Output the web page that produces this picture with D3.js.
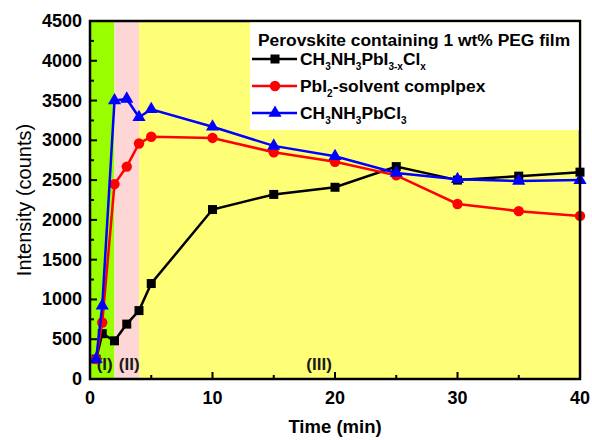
<!DOCTYPE html>
<html><head><meta charset="utf-8">
<script src="https://cdn.jsdelivr.net/npm/d3@7"></script>
<style>body{margin:0;background:#fff;} text{font-family:"Liberation Sans",Arial,sans-serif;}</style>
</head><body>
<svg id="c" width="592" height="440"></svg>
<script>
const times = [0.5, 1, 2, 3, 4, 5, 10, 15, 20, 25, 30, 35, 40];
const mixedHalide = [250, 570, 480, 690, 860, 1200, 2130, 2320, 2410, 2670, 2500, 2550, 2600];
const pbi2Complex = [250, 710, 2450, 2670, 2960, 3045, 3030, 2850, 2730, 2560, 2200, 2110, 2050];
const chloride = [250, 920, 3500, 3520, 3290, 3390, 3170, 2930, 2800, 2590, 2510, 2490, 2500];
const regions = [{x0:0,x1:2,label:"(I)",color:"#99ff00"},{x0:2,x1:4,label:"(II)",color:"#ffd6d6"},{x0:4,x1:40,label:"(III)",color:"#ffff77"}];
const regionLabelX = [1.2, 3.2, 18.7];
const xTicks = [0,10,20,30,40];
const xMinor = [5,15,25,35];
const yTicks = d3.range(0,4501,500);
const yMinor = d3.range(250,4500,500);

const svg = d3.select("#c");
const L=90,R=580,T=21,B=379;
const x = d3.scaleLinear().domain([0,40]).range([L,R]);
const y = d3.scaleLinear().domain([0,4500]).range([B,T]);

// backgrounds
svg.selectAll("rect.reg").data(regions).enter().append("rect")
  .attr("x",d=>x(d.x0)).attr("width",d=>x(d.x1)-x(d.x0))
  .attr("y",T).attr("height",B-T).attr("fill",d=>d.color);
regions.forEach((d,i)=>{
  svg.append("text").attr("x",x(regionLabelX[i])).attr("y",370).attr("text-anchor","middle")
    .attr("font-size",17).attr("font-weight","bold").attr("fill","#1a1a1a").text(d.label);
});

// ticks
const g = svg.append("g");
xTicks.forEach(t=>{
  g.append("line").attr("x1",x(t)).attr("x2",x(t)).attr("y1",B).attr("y2",B-7).attr("stroke","#000").attr("stroke-width",2);
  g.append("text").attr("x",x(t)).attr("y",404).attr("text-anchor","middle").attr("font-size",18).attr("font-weight","bold").text(t);
});
xMinor.forEach(t=>{
  g.append("line").attr("x1",x(t)).attr("x2",x(t)).attr("y1",B).attr("y2",B-4).attr("stroke","#000").attr("stroke-width",2);
});
yTicks.forEach(v=>{
  g.append("line").attr("x1",L).attr("x2",L+7).attr("y1",y(v)).attr("y2",y(v)).attr("stroke","#000").attr("stroke-width",2);
  g.append("text").attr("x",82).attr("y",y(v)+6).attr("text-anchor","end").attr("font-size",18).attr("font-weight","bold").text(v);
});
yMinor.forEach(v=>{
  g.append("line").attr("x1",L).attr("x2",L+4).attr("y1",y(v)).attr("y2",y(v)).attr("stroke","#000").attr("stroke-width",2);
});

// series
const series = [
  {vals:mixedHalide,color:"#000000",marker:"square"},
  {vals:pbi2Complex,color:"#ff0000",marker:"circle"},
  {vals:chloride,color:"#0000ff",marker:"triangle"}
];
const line = d3.line().x(d=>x(d[0])).y(d=>y(d[1]));
function marker(sel,type,color){
  if(type==="square") sel.append("rect").attr("x",-4.5).attr("y",-4.5).attr("width",9).attr("height",9).attr("fill",color);
  else if(type==="circle") sel.append("circle").attr("r",5.2).attr("fill",color);
  else sel.append("path").attr("d",d3.symbol().type(d3.symbolTriangle).size(75)()).attr("fill",color);
}
series.forEach(s=>{
  const pts = times.map((t,i)=>[t,s.vals[i]]);
  svg.append("path").attr("d",line(pts)).attr("fill","none").attr("stroke",s.color).attr("stroke-width",2.5);
  pts.forEach(p=>{
    const m = svg.append("g").attr("transform",`translate(${x(p[0])},${y(p[1])})`);
    marker(m,s.marker,s.color);
  });
});

// frame
svg.append("rect").attr("x",L).attr("y",T).attr("width",R-L).attr("height",B-T).attr("fill","none").attr("stroke","#000").attr("stroke-width",2.5);

// legend
const lg = svg.append("g");
lg.append("rect").attr("x",250).attr("y",22.5).attr("width",R-250-1.25).attr("height",107.5).attr("fill","#fff");
lg.append("text").attr("x",258).attr("y",46).attr("font-size",17.4).attr("font-weight","bold").text("Perovskite containing 1 wt% PEG film");
const entries = [
  {parts:[["CH",0],["3",1],["NH",0],["3",1],["PbI",0],["3-x",1],["Cl",0],["x",1]],cy:59},
  {parts:[["PbI",0],["2",1],["-solvent complpex",0]],cy:86},
  {parts:[["CH",0],["3",1],["NH",0],["3",1],["PbCl",0],["3",1]],cy:113}
];
entries.forEach((e,i)=>{
  const s = series[i];
  lg.append("line").attr("x1",252).attr("x2",297).attr("y1",e.cy).attr("y2",e.cy).attr("stroke",s.color).attr("stroke-width",2.5);
  marker(lg.append("g").attr("transform",`translate(275,${e.cy})`),s.marker,s.color);
  const t = lg.append("text").attr("x",300).attr("y",e.cy+6).attr("font-size",17.4).attr("font-weight","bold");
  let prevSub = false;
  e.parts.forEach(p=>{
    if(p[1]) { t.append("tspan").attr("font-size",10).attr("dy",prevSub?0:5).text(p[0]); prevSub=true; }
    else { t.append("tspan").attr("dy",prevSub?-5:0).text(p[0]); prevSub=false; }
  });
});

// axis titles
svg.append("text").attr("x",335).attr("y",433).attr("text-anchor","middle").attr("font-size",18.5).attr("font-weight","bold").text("Time (min)");
svg.append("text").attr("transform","translate(31,200) rotate(-90)").attr("text-anchor","middle").attr("font-size",20).text("Intensity (counts)");
</script>
</body></html>
